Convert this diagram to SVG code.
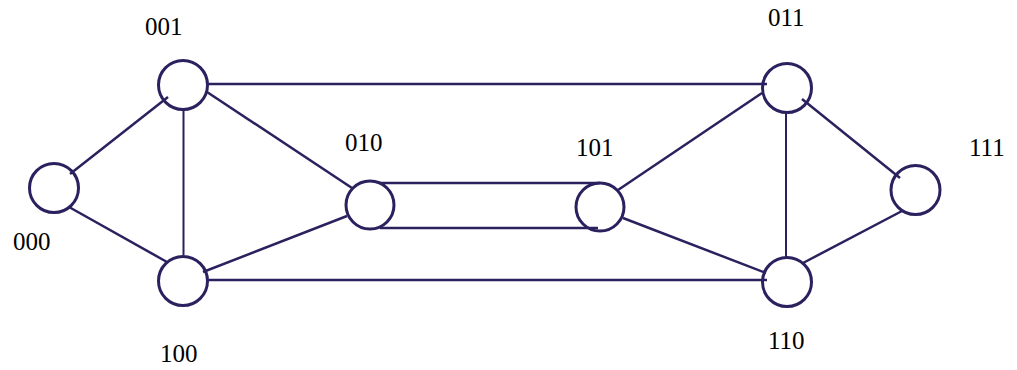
<svg xmlns="http://www.w3.org/2000/svg" width="1017" height="370" viewBox="0 0 1017 370">
  <style>
    .edge { stroke: #2b215e; stroke-width: 2.5; fill: none; stroke-linecap: butt; }
    .thin { stroke-width: 2; }
    .node circle { fill: #ffffff; stroke: #2b215e; stroke-width: 3; }
    .label { font-family: "Liberation Serif", "Times New Roman", serif; font-size: 25px; fill: #000000; }
  </style>
  <rect width="1017" height="370" fill="#ffffff"/>

  <!-- nodes -->
  <g id="n000" class="node">
    <circle cx="54" cy="188" r="24.5"/>
    <text class="label" x="13" y="250">000</text>
  </g>
  <g id="n001" class="node">
    <circle cx="183" cy="85" r="24.5"/>
    <text class="label" x="145" y="35">001</text>
  </g>
  <g id="n100" class="node">
    <circle cx="183" cy="281" r="24.5"/>
    <text class="label" x="160" y="362">100</text>
  </g>
  <g id="n010" class="node">
    <circle cx="370" cy="205" r="24"/>
    <text class="label" x="345" y="151">010</text>
  </g>
  <g id="n101" class="node">
    <circle cx="600" cy="207" r="24"/>
    <text class="label" x="576" y="156">101</text>
  </g>
  <g id="n011" class="node">
    <circle cx="787" cy="88" r="24.5"/>
    <text class="label" x="768" y="26">011</text>
  </g>
  <g id="n110" class="node">
    <circle cx="787" cy="282" r="24.5"/>
    <text class="label" x="768" y="349">110</text>
  </g>
  <g id="n111" class="node">
    <circle cx="915.5" cy="190" r="24.5"/>
    <text class="label" x="969" y="156">111</text>
  </g>

  <!-- connectors, drawn over the node outlines so their ends show -->
  <g id="edges">
    <line class="edge" x1="207" y1="84" x2="767" y2="84"/>
    <line class="edge" x1="207" y1="280" x2="767" y2="280"/>
    <line class="edge thin" x1="183.5" y1="110" x2="183.5" y2="255"/>
    <line class="edge thin" x1="786" y1="113" x2="786" y2="258"/>
    <line class="edge" x1="70" y1="174" x2="168" y2="97"/>
    <line class="edge" x1="69" y1="207" x2="167" y2="262"/>
    <line class="edge" x1="207" y1="92" x2="352" y2="188"/>
    <line class="edge" x1="203" y1="272" x2="347" y2="216"/>
    <line class="edge" x1="380" y1="183" x2="600" y2="183"/>
    <line class="edge" x1="380" y1="228" x2="598" y2="228"/>
    <line class="edge" x1="618" y1="190" x2="762" y2="93"/>
    <line class="edge" x1="623" y1="218" x2="766" y2="273"/>
    <line class="edge" x1="802" y1="99" x2="900" y2="178"/>
    <line class="edge" x1="803" y1="263" x2="902" y2="211"/>
  </g>
</svg>
